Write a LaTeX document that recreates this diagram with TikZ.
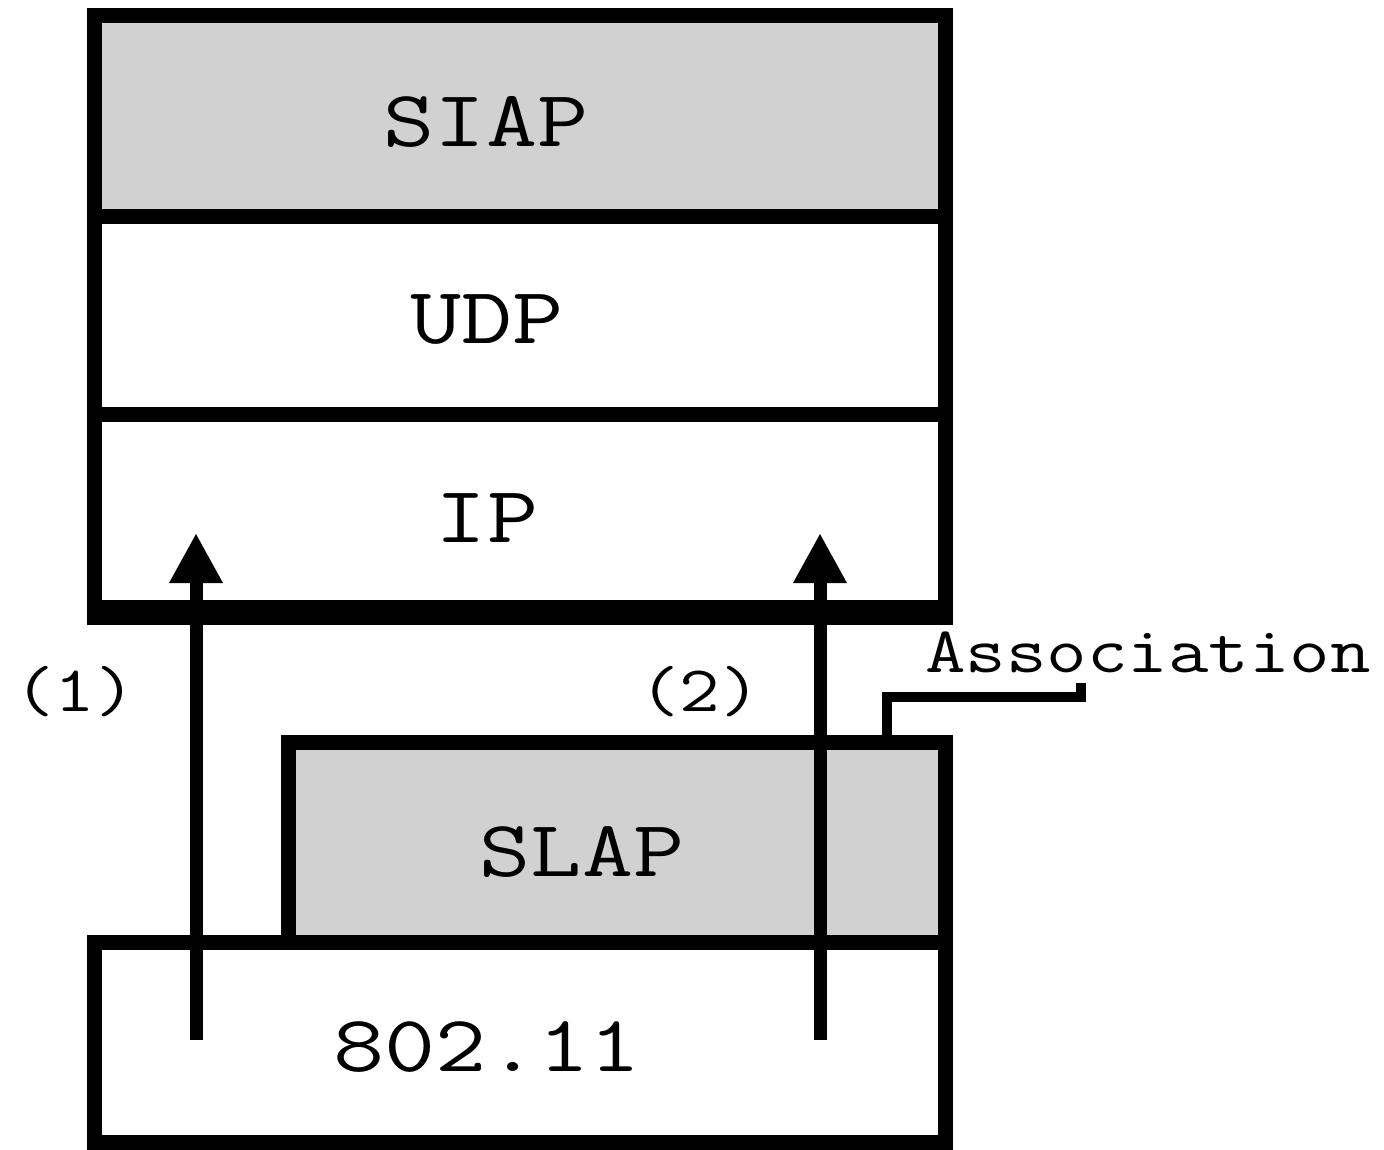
\documentclass[tikz,border=0pt]{standalone}
\usetikzlibrary{arrows.meta}
\definecolor{boxgray}{RGB}{209,209,209}
\newcommand{\wideBig}[1]{\scalebox{1.24}[1]{#1}}
\newcommand{\wideSmall}[1]{\scalebox{1.21}[1]{#1}}
\tikzset{
  layer/.style={draw=black, line width=15pt, rectangle, inner sep=0pt, minimum width=#1},
  biglbl/.style={font=\ttfamily\fontsize{80}{80}\selectfont, inner sep=0pt},
  smalllbl/.style={font=\ttfamily\fontsize{65}{65}\selectfont, inner sep=0pt},
  uparrow/.style={line width=13pt, -{Triangle[width=50pt,length=50pt]}},
  leader/.style={line width=10pt}
}
\begin{document}
\begin{tikzpicture}[x=1pt,y=-1pt]
\useasboundingbox (0,0) rectangle (1384,1149);
% main stack
\node[layer=851pt, fill=boxgray, minimum height=201pt] (siap) at (519.5,115.5) {};
\node[layer=851pt, fill=white, minimum height=198pt] (udp) at (519.5,315) {};
\node[layer=851pt, fill=white, minimum height=193pt] (ip) at (519.5,510.5) {};
\draw[line width=20pt] (ip.south west) -- (ip.south east);
% lower boxes
\node[layer=657pt, fill=boxgray, minimum height=200pt] (slap) at (616.5,842) {};
\node[layer=851pt, fill=white, minimum height=200pt] (wlan) at (519.5,1042) {};
% labels
\node[biglbl] (tsiap) at (486,122) {\wideBig{SIAP}};
\node[biglbl] (tudp) at (487,320) {\wideBig{UDP}};
\node[biglbl] (tip) at (487,518) {\wideBig{IP}};
\node[biglbl] (tslap) at (582,852) {\wideBig{SLAP}};
\node[biglbl] (twlan) at (487,1047) {\wideBig{802.11}};
\node[smalllbl] (one) at (75,692) {\wideSmall{(1)}};
\node[smalllbl] (two) at (700,692) {\wideSmall{(2)}};
\node[smalllbl] (assoc) at (1148,652) {\wideSmall{Association}};
% arrows
\coordinate (a1s) at (196,1040);
\coordinate (a1e) at (196,533);
\coordinate (a2s) at (820,1040);
\coordinate (a2e) at (820,533);
\draw[uparrow] (a1s) -- (a1e);
\draw[uparrow] (a2s) -- (a2e);
% leader line for Association
\coordinate (lt) at (1081,683);
\coordinate (lc) at (1081,697);
\coordinate (lk) at (887,697);
\draw[leader] (lt) -- (lc) -- (lk) -- (lk |- slap.north);
\end{tikzpicture}
\end{document}
